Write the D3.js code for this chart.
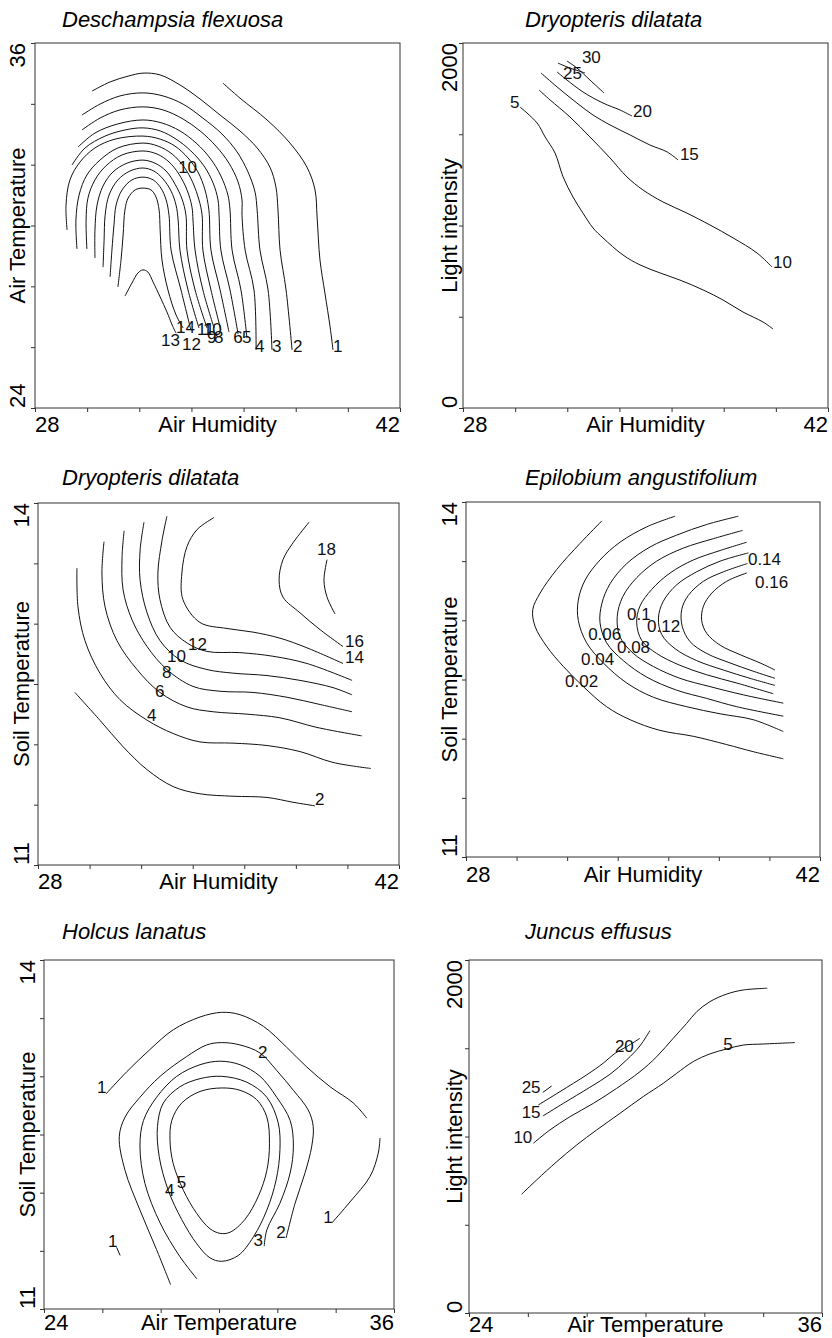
<!DOCTYPE html>
<html>
<head>
<meta charset="utf-8">
<script src="https://cdn.jsdelivr.net/npm/d3@7"></script>
<style>
  body { margin: 0; background: #fff; }
</style>
</head>
<body>
<div id="canvas"></div>
<script>
// Dimension and style constants.
const WIDTH = 832;
const HEIGHT = 1338;
const FONT = "'Liberation Sans', Arial, Helvetica, sans-serif";
const LINE_COLOR = "#111";
const FRAME_COLOR = "#333";

// Tick values of the axes.
const humidityTicks = [28, 30, 32, 34, 36, 38, 40, 42];
const airTempTicks = [24, 26, 28, 30, 32, 34, 36];
const lightTicks = [0, 500, 1000, 1500, 2000];
const soilTempTicks = [11, 11.5, 12, 12.5, 13, 13.5, 14];

// Deschampsia flexuosa: air humidity x air temperature, contour lines 1..14.
const deschampsiaLines = [
  [[35.21,34.68],[35.86,34.19],[36.90,33.47],[37.78,32.71],[38.43,31.92],[38.74,31.17],[38.82,30.28],[38.93,28.87],[39.12,27.78],[39.32,26.66],[39.43,25.91]],
  [[30.19,34.42],[30.88,34.72],[31.57,34.91],[32.14,35.01],[32.80,34.95],[33.56,34.62],[34.33,34.16],[35.10,33.63],[35.86,33.11],[36.52,32.55],[37.01,31.92],[37.24,31.27],[37.32,30.51],[37.40,29.19],[37.63,27.88],[37.86,25.91]],
  [[29.80,33.63],[30.49,33.99],[31.26,34.26],[32.14,34.36],[32.91,34.26],[33.68,33.99],[34.44,33.53],[35.17,33.01],[35.75,32.42],[36.17,31.76],[36.44,31.10],[36.52,30.51],[36.63,29.19],[36.94,27.88],[37.09,25.91]],
  [[29.80,33.14],[30.49,33.53],[31.26,33.80],[32.14,33.90],[32.91,33.80],[33.68,33.50],[34.33,33.11],[34.94,32.61],[35.44,32.05],[35.79,31.43],[35.94,30.84],[35.94,30.34],[36.06,29.19],[36.40,27.88],[36.48,25.91]],
  [[29.65,32.58],[30.30,33.04],[31.18,33.34],[32.14,33.47],[32.87,33.37],[33.56,33.11],[34.18,32.71],[34.71,32.22],[35.13,31.63],[35.40,31.00],[35.48,30.51],[35.56,29.19],[35.90,27.88],[36.13,26.30]],
  [[29.42,31.99],[29.92,32.55],[30.69,32.94],[31.45,33.14],[32.14,33.21],[32.80,33.11],[33.41,32.84],[33.98,32.45],[34.48,31.96],[34.83,31.40],[35.02,30.84],[35.06,30.34],[35.13,29.19],[35.48,27.88],[35.79,26.43]],
  [[29.23,29.85],[29.19,30.67],[29.34,31.50],[29.73,32.09],[30.30,32.55],[31.07,32.84],[32.14,32.94],[32.80,32.84],[33.37,32.61],[33.87,32.22],[34.25,31.76],[34.52,31.17],[34.67,30.51],[34.75,29.19],[35.10,27.88],[35.44,26.50]],
  [[29.61,29.23],[29.57,30.18],[29.69,31.00],[29.99,31.66],[30.49,32.15],[31.18,32.55],[32.14,32.71],[32.72,32.61],[33.26,32.35],[33.72,31.92],[34.06,31.40],[34.29,30.84],[34.41,30.34],[34.44,29.19],[34.75,27.88],[35.13,26.56]],
  [[29.99,29.23],[29.96,30.18],[30.03,30.90],[30.30,31.50],[30.72,31.96],[31.34,32.32],[32.14,32.45],[32.68,32.35],[33.14,32.09],[33.52,31.69],[33.83,31.17],[34.02,30.61],[34.06,30.18],[34.14,29.19],[34.44,27.88],[34.87,26.63]],
  [[30.30,28.93],[30.30,29.85],[30.38,30.67],[30.61,31.30],[30.99,31.76],[31.53,32.05],[32.14,32.15],[32.60,32.05],[33.03,31.79],[33.37,31.36],[33.64,30.87],[33.79,30.34],[33.83,29.19],[34.14,27.88],[34.60,26.63]],
  [[30.61,28.63],[30.65,29.52],[30.69,30.34],[30.84,31.00],[31.18,31.50],[31.64,31.79],[32.14,31.89],[32.56,31.79],[32.91,31.53],[33.22,31.13],[33.41,30.67],[33.49,30.18],[33.56,29.19],[33.87,27.88],[34.29,26.63]],
  [[30.88,28.31],[30.95,29.19],[31.03,30.02],[31.11,30.67],[31.34,31.17],[31.72,31.50],[32.14,31.59],[32.53,31.50],[32.83,31.23],[33.03,30.84],[33.14,30.34],[33.22,29.19],[33.60,27.88],[33.98,26.56]],
  [[31.18,27.98],[31.30,28.87],[31.38,29.69],[31.45,30.51],[31.57,30.90],[31.84,31.17],[32.14,31.23],[32.45,31.17],[32.64,30.94],[32.76,30.51],[32.80,29.85],[32.87,28.87],[33.10,27.88],[33.41,27.06],[33.68,26.63]],
  [[31.45,27.68],[31.72,28.11],[31.95,28.44],[32.14,28.54],[32.33,28.47],[32.53,28.14],[32.80,27.65],[33.06,27.16],[33.26,26.73],[33.41,26.46]]
];
const deschampsiaLabels = [
  ["13",32.83,26.04],["14",33.41,26.46],["12",33.64,25.91],["11",34.21,26.40],["10",34.44,26.40],
  ["9",34.60,26.14],["8",34.87,26.14],["6",35.60,26.14],["5",35.94,26.14],["4",36.44,25.84],
  ["3",37.09,25.84],["2",37.90,25.84],["1",39.43,25.84],["10",33.49,31.73]
];

// Dryopteris dilatata: air humidity x light intensity.
const dryopterisLightLines = [
  [[30.19,1649],[30.84,1562],[31.15,1485],[31.53,1397],[31.84,1266],[32.22,1156],[32.60,1068],[32.99,986],[33.37,932],[34.14,838],[34.79,784],[35.56,740],[36.32,701],[37.21,647],[37.97,592],[38.74,526],[39.51,471],[39.89,433]],
  [[30.92,1742],[31.34,1688],[32.10,1595],[32.87,1485],[33.64,1370],[34.29,1266],[34.90,1195],[35.67,1129],[36.59,1068],[37.47,1003],[38.36,932],[39.28,849],[39.85,773]],
  [[30.99,1836],[31.61,1759],[32.37,1671],[32.99,1605],[33.64,1551],[34.41,1496],[35.17,1441],[35.83,1403],[36.25,1359]],
  [[31.61,1841],[31.99,1797],[32.60,1732],[33.37,1671],[34.02,1633],[34.48,1600]],
  [[31.99,1901],[32.37,1863],[32.87,1797],[33.41,1726]],
  [[31.64,1890],[32.10,1863],[32.68,1836]]
];
const dryopterisLightLabels = [
  ["5",29.80,1644],["10",39.89,767],["15",36.32,1359],["20",34.52,1595],["25",31.84,1803],["30",32.56,1890]
];

// Dryopteris dilatata: air humidity x soil temperature.
const dryopterisSoilLines = [
  [[29.43,12.43],[30.40,12.20],[31.30,11.98],[32.23,11.79],[33.24,11.65],[34.28,11.59],[35.56,11.57],[36.88,11.56],[37.89,11.52],[38.74,11.49]],
  [[29.51,13.46],[29.55,13.14],[29.82,12.86],[30.40,12.59],[31.18,12.37],[32.23,12.20],[33.24,12.09],[34.28,12.02],[35.56,12.01],[36.88,11.99],[38.16,11.94],[39.44,11.85],[40.91,11.80]],
  [[30.56,13.68],[30.48,13.42],[30.60,13.14],[31.06,12.86],[31.84,12.62],[32.73,12.43],[33.78,12.31],[34.79,12.27],[36.11,12.25],[37.38,12.22],[38.82,12.14],[40.56,12.07]],
  [[31.34,13.77],[31.26,13.55],[31.30,13.28],[31.65,13.03],[32.23,12.81],[33.00,12.62],[34.01,12.48],[35.06,12.44],[36.34,12.43],[37.66,12.39],[38.94,12.33],[40.18,12.27]],
  [[32.11,13.84],[31.96,13.61],[31.96,13.36],[32.23,13.09],[32.73,12.86],[33.51,12.70],[34.55,12.62],[35.56,12.59],[36.88,12.57],[38.16,12.53],[39.44,12.47],[40.18,12.41]],
  [[33.00,13.89],[32.81,13.69],[32.65,13.42],[32.73,13.20],[33.12,12.97],[33.78,12.84],[34.55,12.77],[35.83,12.76],[37.11,12.73],[38.43,12.67],[40.18,12.53]],
  [[34.83,13.88],[34.17,13.78],[33.78,13.64],[33.58,13.42],[33.62,13.20],[34.28,13.01],[35.33,12.96],[36.34,12.93],[37.38,12.88],[38.43,12.80],[39.83,12.67]],
  [[38.51,13.84],[37.89,13.67],[37.50,13.53],[37.35,13.36],[37.50,13.22],[38.16,13.09],[38.94,12.95],[39.83,12.81]],
  [[39.21,13.53],[39.09,13.36],[39.21,13.22],[39.52,13.08]]
];
const dryopterisSoilLabels = [
  ["2",38.74,11.50],["4",32.23,12.19],["6",32.54,12.39],["8",32.81,12.55],["10",33.00,12.68],
  ["12",33.82,12.78],["14",39.91,12.67],["16",39.91,12.81],["18",38.82,13.57]
];

// Epilobium angustifolium: air humidity x soil temperature.
const epilobiumLines = [
  [[33.37,13.84],[32.51,13.65],[31.59,13.43],[30.93,13.23],[30.64,13.09],[30.73,12.95],[31.19,12.78],[31.85,12.61],[32.64,12.44],[33.56,12.27],[34.49,12.16],[35.67,12.07],[36.99,12.02],[38.31,11.95],[39.36,11.89],[40.55,11.83]],
  [[36.27,13.88],[35.15,13.79],[34.09,13.66],[33.30,13.51],[32.71,13.34],[32.44,13.17],[32.44,13.00],[32.77,12.81],[33.43,12.64],[34.36,12.47],[35.41,12.35],[36.73,12.27],[38.05,12.21],[39.36,12.16],[40.55,12.06]],
  [[38.77,13.88],[37.52,13.81],[36.33,13.72],[35.28,13.62],[34.36,13.48],[33.70,13.31],[33.37,13.14],[33.30,12.98],[33.56,12.81],[34.22,12.66],[35.15,12.52],[36.33,12.41],[37.52,12.34],[38.71,12.27],[40.55,12.19]],
  [[38.94,13.76],[37.78,13.69],[36.59,13.61],[35.54,13.50],[34.75,13.36],[34.20,13.20],[33.98,13.03],[34.09,12.86],[34.62,12.72],[35.41,12.61],[36.46,12.51],[37.65,12.44],[38.97,12.37],[40.55,12.30]],
  [[39.10,13.66],[38.05,13.59],[36.99,13.51],[36.07,13.40],[35.34,13.26],[34.88,13.12],[34.75,12.98],[34.95,12.83],[35.54,12.72],[36.46,12.62],[37.52,12.54],[38.71,12.47],[40.15,12.38]],
  [[39.17,13.57],[38.05,13.50],[37.12,13.41],[36.33,13.30],[35.80,13.16],[35.61,13.02],[35.74,12.88],[36.27,12.76],[37.12,12.66],[38.18,12.58],[39.23,12.51],[40.22,12.45]],
  [[39.13,13.48],[38.18,13.41],[37.39,13.33],[36.79,13.21],[36.53,13.09],[36.55,12.95],[36.86,12.82],[37.52,12.72],[38.44,12.64],[39.36,12.57],[40.22,12.51]],
  [[39.10,13.40],[38.31,13.33],[37.72,13.23],[37.39,13.12],[37.32,13.00],[37.52,12.89],[38.05,12.79],[38.84,12.71],[39.63,12.64],[40.22,12.58]]
];
const epilobiumLabels = [
  ["0.02",31.92,12.44],["0.04",32.55,12.62],["0.06",32.83,12.83],["0.08",33.97,12.72],
  ["0.1",34.37,13.00],["0.12",35.16,12.90],["0.14",39.15,13.47],["0.16",39.43,13.27]
];

// Holcus lanatus: air temperature x soil temperature (two closed rings at the centre).
const holcusLines = [
  [[26.13,12.85],[26.84,13.04],[27.63,13.23],[28.43,13.40],[29.35,13.51],[30.09,13.55],[30.72,13.53],[31.52,13.43],[32.32,13.25],[33.01,13.08],[33.81,12.91],[34.61,12.77],[35.07,12.64]],
  [[33.87,11.74],[34.49,11.92],[35.18,12.14],[35.46,12.34],[35.52,12.47]],
  [[26.49,11.53],[26.61,11.46]],
  [[28.34,11.21],[27.86,11.51],[27.29,11.85],[26.78,12.19],[26.58,12.48],[26.78,12.65],[27.29,12.82],[27.98,13.00],[28.89,13.17],[29.58,13.27],[30.09,13.29],[30.72,13.27],[31.41,13.20],[31.98,13.05],[32.55,12.88],[33.06,12.71],[33.23,12.57],[33.18,12.40],[32.95,12.17],[32.61,11.91],[32.30,11.61]],
  [[29.24,11.26],[28.66,11.45],[27.98,11.74],[27.46,12.08],[27.29,12.40],[27.41,12.62],[27.86,12.82],[28.55,13.00],[29.35,13.10],[30.04,13.13],[30.72,13.10],[31.41,13.00],[31.98,12.82],[32.44,12.62],[32.55,12.40],[32.44,12.17],[32.09,11.91],[31.64,11.68],[31.55,11.54]]
];
const holcusRings = [
  [[30.09,13.00],[30.95,12.95],[31.64,12.82],[32.03,12.60],[32.09,12.37],[31.96,12.11],[31.64,11.85],[31.18,11.62],[30.66,11.46],[30.09,11.41],[29.69,11.44],[29.24,11.56],[28.72,11.77],[28.26,12.02],[27.95,12.31],[27.89,12.57],[28.09,12.77],[28.66,12.91],[29.35,12.98]],
  [[30.09,12.90],[30.72,12.88],[31.29,12.80],[31.64,12.65],[31.73,12.42],[31.64,12.19],[31.35,11.97],[30.89,11.77],[30.38,11.66],[30.04,11.65],[29.69,11.69],[29.24,11.82],[28.78,12.02],[28.43,12.25],[28.32,12.45],[28.38,12.62],[28.72,12.77],[29.35,12.87]]
];
const holcusLabels = [
  ["1",25.82,12.86],["2",31.34,13.16],["1",26.19,11.53],["4",28.15,11.97],
  ["5",28.55,12.04],["3",31.18,11.54],["2",31.96,11.61],["1",33.57,11.74]
];

// Juncus effusus: air temperature x light intensity.
const juncusLines = [
  [[25.79,673],[26.30,754],[26.98,857],[27.66,952],[28.34,1037],[29.13,1131],[29.92,1226],[30.60,1301],[31.06,1358],[31.62,1424],[32.19,1468],[32.76,1496],[33.32,1518],[34.00,1524],[35.08,1532]],
  [[26.19,962],[26.75,1037],[27.43,1112],[28.23,1188],[29.02,1273],[29.81,1367],[30.38,1452],[30.94,1556],[31.40,1641],[31.74,1707],[32.19,1764],[32.76,1807],[33.32,1830],[34.14,1840]],
  [[26.51,1116],[27.21,1188],[28.11,1279],[28.79,1352],[29.36,1434],[29.81,1513],[30.15,1600]],
  [[26.36,1179],[27.09,1254],[28.00,1349],[28.56,1415],[28.96,1471],[29.36,1509],[29.81,1556]],
  [[26.51,1250],[26.81,1286]]
];
const juncusLabels = [
  ["25",25.79,1245],["15",25.79,1103],["10",25.51,962],["20",28.96,1481],["5",32.64,1490]
];

// Layout of the six panels (frame in pixels).
const panels = [
  { title: "Deschampsia flexuosa", tx: 62, ty: 27, left: 35, right: 400, top: 43, bottom: 408,
    xTicks: humidityTicks, yTicks: airTempTicks, xLabel: "Air Humidity", yLabel: "Air Temperature",
    lines: deschampsiaLines, rings: [], labels: deschampsiaLabels, gapY: 10, gapX: 24 },
  { title: "Dryopteris dilatata", tx: 525, ty: 27, left: 463, right: 828, top: 43, bottom: 408,
    xTicks: humidityTicks, yTicks: lightTicks, xLabel: "Air Humidity", yLabel: "Light intensity",
    lines: dryopterisLightLines, rings: [], labels: dryopterisLightLabels, gapY: 6, gapX: 24 },
  { title: "Dryopteris dilatata", tx: 62, ty: 485, left: 38, right: 399, top: 503, bottom: 865,
    xTicks: humidityTicks, yTicks: soilTempTicks, xLabel: "Air Humidity", yLabel: "Soil Temperature",
    lines: dryopterisSoilLines, rings: [], labels: dryopterisSoilLabels, gapY: 9, gapX: 24 },
  { title: "Epilobium angustifolium", tx: 525, ty: 485, left: 466, right: 820, top: 502, bottom: 857,
    xTicks: humidityTicks, yTicks: soilTempTicks, xLabel: "Air Humidity", yLabel: "Soil Temperature",
    lines: epilobiumLines, rings: [], labels: epilobiumLabels, gapY: 9, gapX: 25 },
  { title: "Holcus lanatus", tx: 62, ty: 939, left: 44, right: 394, top: 960, bottom: 1309,
    xTicks: [24, 26, 28, 30, 32, 34, 36], yTicks: soilTempTicks, xLabel: "Air Temperature", yLabel: "Soil Temperature",
    lines: holcusLines, rings: holcusRings, labels: holcusLabels, gapY: 9, gapX: 21 },
  { title: "Juncus effusus", tx: 525, ty: 939, left: 469, right: 822, top: 960, bottom: 1313,
    xTicks: [24, 26, 28, 30, 32, 34, 36], yTicks: lightTicks, xLabel: "Air Temperature", yLabel: "Light intensity",
    lines: juncusLines, rings: [], labels: juncusLabels, gapY: 7, gapX: 19 }
];

const svg = d3.select("#canvas")
  .append("svg")
  .attr("width", WIDTH)
  .attr("height", HEIGHT)
  .style("font-family", FONT);

panels.forEach(p => drawPanel(svg, p));

// Draws one contour panel.
function drawPanel(svg, p) {
  const g = svg.append("g");
  const xScale = d3.scaleLinear()
    .domain(d3.extent(p.xTicks))
    .range([p.left, p.right]);
  const yScale = d3.scaleLinear()
    .domain(d3.extent(p.yTicks))
    .range([p.bottom, p.top]);

  // Ticks, drawn by the axes without labels.
  g.append("g")
    .attr("transform", `translate(0, ${p.bottom})`)
    .call(d3.axisBottom(xScale).tickValues(p.xTicks).tickSize(4).tickSizeOuter(0).tickFormat(""))
    .call(a => a.select(".domain").remove())
    .call(a => a.selectAll("line").attr("stroke", FRAME_COLOR));
  g.append("g")
    .attr("transform", `translate(${p.left}, 0)`)
    .call(d3.axisLeft(yScale).tickValues(p.yTicks).tickSize(4).tickSizeOuter(0).tickFormat(""))
    .call(a => a.select(".domain").remove())
    .call(a => a.selectAll("line").attr("stroke", FRAME_COLOR));

  // Frame.
  g.append("rect")
    .attr("x", p.left)
    .attr("y", p.top)
    .attr("width", p.right - p.left)
    .attr("height", p.bottom - p.top)
    .attr("fill", "none")
    .attr("stroke", FRAME_COLOR)
    .attr("stroke-width", 1);

  // End tick labels and axis titles along the bottom.
  const xFirst = p.xTicks[0], xLast = p.xTicks[p.xTicks.length - 1];
  const baseY = p.bottom + p.gapX;
  g.append("text").attr("x", xScale(xFirst)).attr("y", baseY)
    .attr("font-size", 22).attr("text-anchor", "start").text(xFirst);
  g.append("text").attr("x", xScale(xLast)).attr("y", baseY)
    .attr("font-size", 22).attr("text-anchor", "end").text(xLast);
  g.append("text").attr("x", (p.left + p.right) / 2).attr("y", baseY)
    .attr("font-size", 22).attr("text-anchor", "middle").text(p.xLabel);

  // End tick labels and axis titles along the left, rotated.
  const yFirst = p.yTicks[0], yLast = p.yTicks[p.yTicks.length - 1];
  const baseX = p.left - p.gapY;
  const rotText = (y, anchor, txt) => g.append("text")
    .attr("transform", `translate(${baseX}, ${y}) rotate(-90)`)
    .attr("font-size", 22)
    .attr("text-anchor", anchor)
    .text(txt);
  rotText(yScale(yFirst), "start", yFirst);
  rotText(yScale(yLast), "end", yLast);
  rotText((p.top + p.bottom) / 2, "middle", p.yLabel);

  // Panel title.
  g.append("text")
    .attr("x", p.tx)
    .attr("y", p.ty)
    .attr("font-size", 22)
    .attr("font-style", "italic")
    .text(p.title);

  // Contour lines.
  const line = d3.line()
    .x(d => xScale(d[0]))
    .y(d => yScale(d[1]))
    .curve(d3.curveCatmullRom.alpha(0.5));
  const ring = d3.line()
    .x(d => xScale(d[0]))
    .y(d => yScale(d[1]))
    .curve(d3.curveCatmullRomClosed.alpha(0.5));

  g.selectAll(".contour")
    .data(p.lines)
    .join("path")
    .attr("class", "contour")
    .attr("d", line)
    .attr("fill", "none")
    .attr("stroke", LINE_COLOR)
    .attr("stroke-width", 1);

  g.selectAll(".ring")
    .data(p.rings)
    .join("path")
    .attr("class", "ring")
    .attr("d", ring)
    .attr("fill", "none")
    .attr("stroke", LINE_COLOR)
    .attr("stroke-width", 1);

  // Contour labels.
  g.selectAll(".level")
    .data(p.labels)
    .join("text")
    .attr("class", "level")
    .attr("x", d => xScale(d[1]))
    .attr("y", d => yScale(d[2]))
    .attr("font-size", 17)
    .attr("fill", "#111")
    .text(d => d[0]);
}
</script>
</body>
</html>
